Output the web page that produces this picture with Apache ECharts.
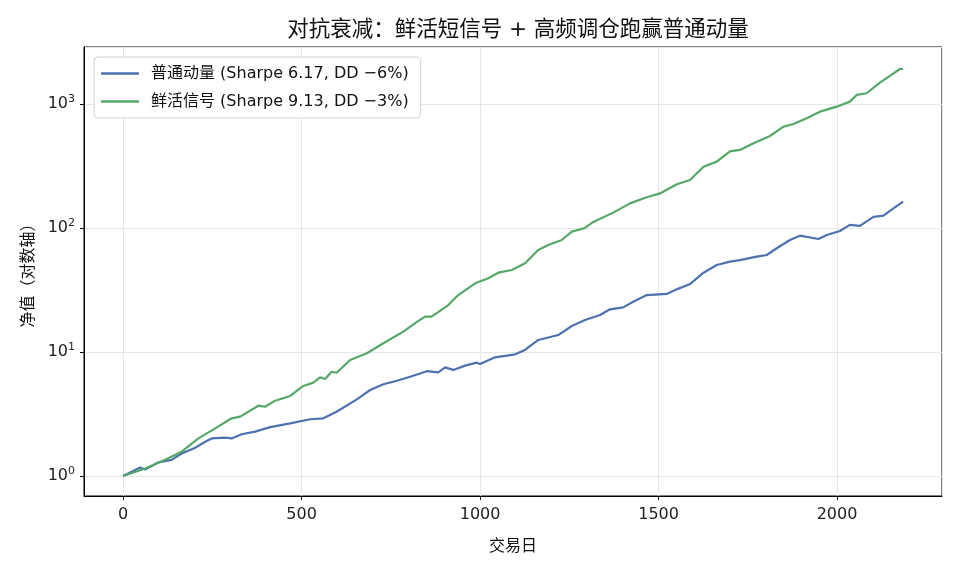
<!DOCTYPE html>
<html>
  <head>
    <meta charset="utf-8" />
    <title>对抗衰减</title>
    <script src="https://cdn.jsdelivr.net/npm/echarts@6/dist/echarts.min.js"></script>
    <style>
      html, body { margin: 0; padding: 0; background: #fff; }
    </style>
  </head>
  <body>
    <div id="main" style="width: 962px;height:572px;"></div>
    <script type="text/javascript">
      // 曲线数据（从图上读出的采样点）
      var seriesNames = ['普通动量 (Sharpe 6.17, DD −6%)', '鲜活信号 (Sharpe 9.13, DD −3%)'];

      var momDays = [0, 48, 62, 99, 136, 164, 202, 230, 248, 286, 304, 332, 370, 412, 468, 524, 561, 598,
        655, 692, 729, 767, 804, 851, 883, 902, 925, 958, 991, 1000, 1042, 1098, 1126, 1163, 1219, 1257,
        1294, 1336, 1364, 1401, 1429, 1467, 1523, 1551, 1588, 1626, 1663, 1700, 1728, 1775, 1803, 1831,
        1868, 1896, 1948, 1971, 2008, 2036, 2064, 2102, 2130, 2158, 2185];
      var momValues = [1.0, 1.17, 1.13, 1.29, 1.35, 1.52, 1.69, 1.89, 2.01, 2.04, 2.01, 2.17, 2.28, 2.48,
        2.66, 2.87, 2.92, 3.3, 4.15, 4.94, 5.5, 5.87, 6.32, 7.0, 6.85, 7.52, 7.17, 7.76, 8.2, 8.0, 9.06,
        9.58, 10.4, 12.5, 13.7, 16.2, 18.1, 19.9, 22.1, 22.9, 25.4, 28.8, 29.4, 32, 35.3, 43.6, 50.3,
        53.5, 55, 58.7, 60.6, 68.6, 80, 86.7, 81.5, 87.9, 94.6, 106, 104, 123, 126, 144, 163];

      var freshDays = [0, 62, 118, 164, 211, 258, 304, 328, 379, 398, 426, 468, 505, 533, 552, 566, 584,
        598, 636, 683, 729, 785, 823, 846, 864, 911, 939, 986, 1023, 1051, 1089, 1126, 1163, 1191, 1229,
        1257, 1294, 1317, 1373, 1420, 1467, 1504, 1551, 1588, 1626, 1663, 1700, 1728, 1766, 1812, 1850,
        1878, 1915, 1952, 1999, 2036, 2055, 2083, 2120, 2148, 2176, 2185];
      var freshValues = [1.0, 1.15, 1.35, 1.57, 2.01, 2.42, 2.92, 3.01, 3.69, 3.62, 4.05, 4.42, 5.32, 5.66,
        6.25, 6.05, 6.93, 6.8, 8.62, 9.77, 11.75, 14.6, 17.5, 19.3, 19.3, 23.9, 28.8, 35.8, 39.3, 43.6,
        45.8, 51.9, 66.5, 73, 80, 93.4, 100, 112, 133, 158, 177, 190, 225, 244, 312, 343, 415, 426, 482,
        552, 656, 690, 767, 867, 951, 1044, 1183, 1220, 1486, 1682, 1915, 1915];

      function pairs(xs, ys) {
        return xs.map(function (x, i) { return [x, ys[i]]; });
      }

      var font = '"DejaVu Sans", "Noto Sans CJK SC", sans-serif';
      var myChart = echarts.init(document.getElementById('main'));

      myChart.setOption({
        backgroundColor: '#fff',
        animation: false,
        textStyle: { fontFamily: font, color: '#111' },
        title: {
          text: '对抗衰减：鲜活短信号 + 高频调仓跑赢普通动量',
          left: 513,
          textAlign: 'center',
          top: 15,
          textStyle: { fontFamily: font, fontSize: 21.5, fontWeight: 'normal', color: '#111' }
        },
        legend: {
          orient: 'vertical',
          left: 94,
          top: 57,
          padding: [7, 12, 7, 7],
          itemGap: 9,
          itemWidth: 38,
          itemHeight: 2.5,
          icon: 'rect',
          backgroundColor: '#fff',
          borderColor: '#d0d0d0',
          borderWidth: 1,
          borderRadius: 4,
          textStyle: { fontFamily: font, fontSize: 16, lineHeight: 19, color: '#111', padding: [0, 0, 0, 7] },
          data: seriesNames
        },
        grid: {
          left: 84,
          right: 20,
          top: 47,
          bottom: 76,
          show: true,
          borderColor: '#000',
          borderWidth: 1,
          containLabel: false
        },
        xAxis: {
          type: 'value',
          min: -109.5,
          max: 2294,
          splitNumber: 5,
          name: '交易日',
          nameLocation: 'middle',
          nameGap: 43,
          nameTextStyle: { fontFamily: font, fontSize: 16, color: '#111' },
          axisLine: { show: true, onZero: false, lineStyle: { color: '#000', width: 1 } },
          axisTick: { show: true, length: 4, lineStyle: { color: '#000' } },
          axisLabel: {
            showMinLabel: false,
            showMaxLabel: false,
            fontSize: 16,
            color: '#222',
            margin: 11,
            formatter: function (v) { return String(v); }
          },
          splitLine: { show: true, lineStyle: { color: '#e6e6e6', width: 1 } }
        },
        yAxis: {
          type: 'log',
          logBase: 10,
          min: 0.69,
          max: 2880,
          name: '净值（对数轴）',
          nameLocation: 'middle',
          nameGap: 31,
          nameRotate: 90,
          nameTextStyle: { fontFamily: font, fontSize: 16, color: '#111' },
          axisLine: { show: true, onZero: false, lineStyle: { color: '#000', width: 1 } },
          axisTick: { show: true, length: 4, lineStyle: { color: '#000' } },
          axisLabel: {
            showMinLabel: false,
            showMaxLabel: false,
            margin: 9,
            formatter: function (v) {
              return '10{s|' + Math.round(Math.log10(v)) + '}';
            },
            fontSize: 16,
            color: '#222',
            rich: { s: { fontSize: 11, verticalAlign: 'top', padding: [0, 0, 9, 0], color: '#222' } }
          },
          splitLine: { show: true, lineStyle: { color: '#e6e6e6', width: 1 } }
        },
        series: [
          {
            name: seriesNames[0],
            type: 'line',
            data: pairs(momDays, momValues),
            showSymbol: false,
            color: '#4c72b0',
            lineStyle: { width: 2.2, color: '#4c72b0' }
          },
          {
            name: seriesNames[1],
            type: 'line',
            data: pairs(freshDays, freshValues),
            showSymbol: false,
            color: '#55a868',
            lineStyle: { width: 2.2, color: '#55a868' }
          }
        ]
      });
    </script>
  </body>
</html>
